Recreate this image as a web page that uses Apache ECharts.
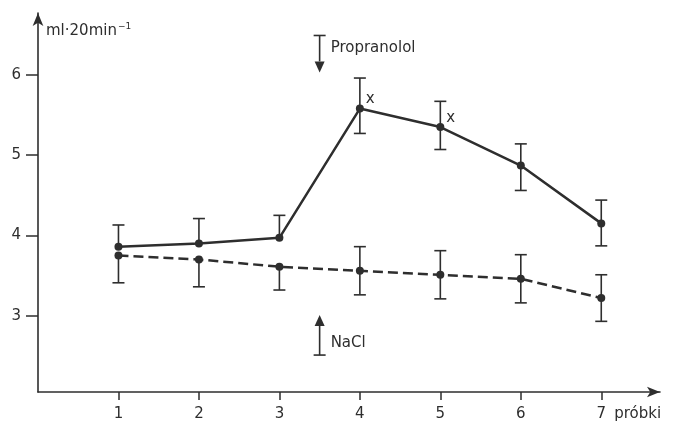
<!DOCTYPE html>
<html>
<head>
<meta charset="utf-8">
<script src="https://cdn.jsdelivr.net/npm/echarts@6/dist/echarts.min.js"></script>
<style>html,body{margin:0;padding:0;background:#fff}#c{width:673px;height:425px}</style>
</head>
<body>
<div id="c"></div>
<script>
// ---- data ----
var samples = [1, 2, 3, 4, 5, 6, 7];
var xTickLabels = ['1', '2', '3', '4', '5', '6', '7'];
var yTickValues = [3, 4, 5, 6];
var propranolol = [3.86, 3.90, 3.97, 5.58, 5.35, 4.87, 4.15];
// null: that half of the bar is hidden behind the other group's bar in the figure
var propranololLow = [null, null, null, 5.27, 5.07, 4.56, 3.87];
var propranololHigh = [4.13, 4.21, 4.25, 5.96, 5.67, 5.14, 4.44];
var nacl = [3.75, 3.70, 3.61, 3.56, 3.51, 3.46, 3.22];
var naclLow = [3.41, 3.36, 3.32, 3.26, 3.21, 3.16, 2.93];
var naclHigh = [null, null, null, 3.86, 3.81, 3.76, 3.51];
var significant = [4, 5]; // samples marked with "x"
var yAxisName = 'ml·20min';
var xAxisName = 'próbki';
// annotations: [x, barEnd, arrowTip, text]
var annotations = [
  [3.5, 6.49, 6.03, 'Propranolol'],
  [3.5, 2.51, 3.01, 'NaCl']
];

var FONT = 'DejaVu Sans';
var INK = '#2e2e2e';

function errData(xs, mid, lo, hi) {
  return xs.map(function (x, i) {
    return [x, mid[i], lo[i] == null ? NaN : lo[i], hi[i] == null ? NaN : hi[i]];
  });
}
function pairs(xs, ys) { return xs.map(function (x, i) { return [x, ys[i]]; }); }

function errRender(params, api) {
  var x = api.value(0);
  var mid = api.value(1), lo = api.value(2), hi = api.value(3);
  var w = 6;
  var st = { stroke: INK, lineWidth: 1.6 };
  var pm = api.coord([x, mid]);
  var children = [];
  [lo, hi].forEach(function (v) {
    if (v == null || isNaN(v)) return;
    var p = api.coord([x, v]);
    children.push({ type: 'line', shape: { x1: pm[0], y1: pm[1], x2: p[0], y2: p[1] }, style: st });
    children.push({ type: 'line', shape: { x1: p[0] - w, y1: p[1], x2: p[0] + w, y2: p[1] }, style: st });
  });
  return { type: 'group', children: children };
}

function annRender(params, api) {
  var x = api.value(0);
  var pe = api.coord([x, api.value(1)]);
  var pt = api.coord([x, api.value(2)]);
  var txt = annotations[params.dataIndex][3];
  var dir = pt[1] > pe[1] ? 1 : -1;
  var ah = 11, aw = 5;
  var st = { stroke: INK, lineWidth: 1.6 };
  var textY = dir === 1 ? pe[1] + 13 : (pe[1] + pt[1]) / 2 + 8;
  return {
    type: 'group',
    children: [
      { type: 'line', shape: { x1: pe[0], y1: pe[1], x2: pt[0], y2: pt[1] - dir * ah }, style: st },
      { type: 'line', shape: { x1: pe[0] - 6, y1: pe[1], x2: pe[0] + 6, y2: pe[1] }, style: st },
      { type: 'polygon', shape: { points: [[pt[0], pt[1]], [pt[0] - aw, pt[1] - dir * ah], [pt[0] + aw, pt[1] - dir * ah]] }, style: { fill: INK } },
      { type: 'text', x: pe[0] + 11, y: textY, style: { text: txt, font: '15px "' + FONT + '"', fill: INK, textVerticalAlign: 'middle' } }
    ]
  };
}

function markRender(params, api) {
  var p = api.coord([api.value(0), api.value(1)]);
  return { type: 'text', x: p[0] + 6, y: p[1] - 9, style: { text: 'x', font: '15px "' + FONT + '"', fill: INK, textVerticalAlign: 'middle' } };
}

function nameRender(params, api) {
  var p = api.coord([api.value(0), api.value(1)]);
  return { type: 'text', x: p[0] + 13, y: p[1] + 22, style: { text: xAxisName, font: '15px "' + FONT + '"', fill: INK, textVerticalAlign: 'middle' } };
}

var chart = echarts.init(document.getElementById('c'), null, { renderer: 'canvas' });
var yMin = 2.05;
chart.setOption({
  backgroundColor: '#ffffff',
  animation: false,
  grid: { left: 38, right: 13, top: 13, bottom: 33, containLabel: false },
  xAxis: {
    type: 'value', min: 0, max: 7.73,
    axisLine: { show: true, symbol: ['none', 'arrow'], symbolSize: [8, 13], lineStyle: { color: INK, width: 1.6 } },
    axisTick: { show: true, inside: false, length: 8, customValues: samples, lineStyle: { color: INK, width: 1.5 } },
    axisLabel: { show: true, customValues: samples, margin: 15, color: INK, fontFamily: FONT, fontSize: 15,
      formatter: function (v) { var i = samples.indexOf(v); return i >= 0 ? xTickLabels[i] : ''; } },
    splitLine: { show: false }
  },
  yAxis: {
    type: 'value', min: yMin, max: 6.77,
    name: '{a|' + yAxisName + '}{b|−1}',
    nameLocation: 'end', nameGap: -28,
    nameTextStyle: { align: 'left', padding: [0, 0, 0, 8],
      rich: { a: { fontFamily: FONT, fontSize: 15, color: INK }, b: { fontFamily: FONT, fontSize: 9, color: INK, verticalAlign: 'top', padding: [0, 0, 10, 1] } } },
    axisLine: { show: true, symbol: ['none', 'arrow'], symbolSize: [8, 13], lineStyle: { color: INK, width: 1.6 } },
    axisTick: { show: true, inside: false, length: 12, customValues: yTickValues, lineStyle: { color: INK, width: 1.5 } },
    axisLabel: { show: true, customValues: yTickValues, margin: 17, color: INK, fontFamily: FONT, fontSize: 15 },
    splitLine: { show: false }
  },
  series: [
    { type: 'line', data: pairs(samples, propranolol), symbol: 'circle', symbolSize: 8,
      lineStyle: { color: INK, width: 2.5 }, itemStyle: { color: INK }, z: 5 },
    { type: 'line', data: pairs(samples, nacl), symbol: 'circle', symbolSize: 8,
      lineStyle: { color: INK, width: 2.5, type: [10, 5] }, itemStyle: { color: INK }, z: 5 },
    { type: 'custom', data: errData(samples, propranolol, propranololLow, propranololHigh), renderItem: errRender, z: 4 },
    { type: 'custom', data: errData(samples, nacl, naclLow, naclHigh), renderItem: errRender, z: 4 },
    { type: 'custom', data: significant.map(function (s) { return [s, propranolol[samples.indexOf(s)]]; }), renderItem: markRender, z: 6 },
    { type: 'custom', data: annotations.map(function (a) { return [a[0], a[1], a[2]]; }), renderItem: annRender, z: 6 },
    { type: 'custom', data: [[samples[samples.length - 1], yMin]], renderItem: nameRender, z: 6 }
  ]
});
</script>
</body>
</html>
